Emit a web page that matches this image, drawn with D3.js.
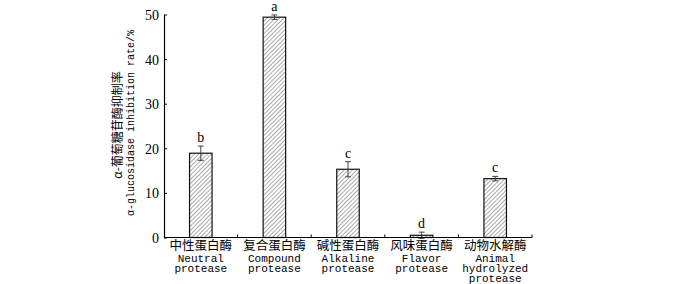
<!DOCTYPE html>
<html>
<head>
<meta charset="utf-8">
<script src="https://cdn.jsdelivr.net/npm/d3@7"></script>
<style>
  body { margin: 0; background: #fff; }
  svg { display: block; }
  .tickLbl { font-family: "Liberation Serif", serif; font-size: 14px; }
  .cnLbl { font-family: "Noto Sans CJK SC", sans-serif; font-size: 12.5px; }
  .enLbl { font-family: "Liberation Mono", monospace; font-size: 11px; }
  .sigLbl { font-family: "Liberation Serif", serif; font-size: 14px; }
</style>
</head>
<body>
<div id="chartDiv"></div>
<script>
// categories (Chinese name + English lines)
const cnNames = ["中性蛋白酶", "复合蛋白酶", "碱性蛋白酶", "风味蛋白酶", "动物水解酶"];
const enNames = [["Neutral", "protease"], ["Compound", "protease"], ["Alkaline", "protease"],
                 ["Flavor", "protease"], ["Animal", "hydrolyzed", "protease"]];
// inhibition rate (%) and error
const rates = [18.9, 49.4, 15.3, 0.5, 13.2];
const errs = [1.6, 0.5, 1.7, 0.7, 0.5];
const sigLetters = ["b", "a", "c", "d", "c"];
const yTicks = [0, 10, 20, 30, 40, 50];

const W = 700, H = 284;
const m = { l: 164, r: 168, t: 14.5, b: 46.5 };

const data = cnNames.map((c, i) => ({ cn: c, en: enNames[i], val: rates[i], err: errs[i], sig: sigLetters[i] }));

const svg = d3.select("#chartDiv").append("svg")
  .attr("width", W).attr("height", H);
svg.append("rect").attr("width", W).attr("height", H).attr("fill", "#fff");

// hatch pattern for bars
const pat = svg.append("defs").append("pattern")
  .attr("id", "hatch")
  .attr("patternUnits", "userSpaceOnUse")
  .attr("width", 3).attr("height", 3)
  .attr("patternTransform", "rotate(45)");
pat.append("rect").attr("width", 3).attr("height", 3).attr("fill", "#fff");
pat.append("line")
  .attr("x1", 0).attr("y1", 0).attr("x2", 0).attr("y2", 3)
  .attr("stroke", "#555").attr("stroke-width", 1);

const x = d3.scaleBand()
  .domain(cnNames)
  .range([m.l, W - m.r])
  .padding(0);

const y = d3.scaleLinear()
  .domain([0, 50])
  .range([H - m.b, m.t]);

const barW = 22.5;

// bars
svg.selectAll(".bar").data(data).enter().append("rect")
  .attr("class", "bar")
  .attr("x", d => x(d.cn) + x.bandwidth() / 2 - barW / 2)
  .attr("y", d => y(d.val))
  .attr("width", barW)
  .attr("height", d => y(0) - y(d.val))
  .attr("fill", "url(#hatch)")
  .attr("stroke", "#111")
  .attr("stroke-width", 1.2);

// error bars
const eg = svg.selectAll(".err").data(data).enter().append("g").attr("class", "err")
  .attr("stroke", "#333").attr("stroke-width", 0.9);
const cx = d => x(d.cn) + x.bandwidth() / 2;
eg.append("line")
  .attr("x1", cx).attr("x2", cx)
  .attr("y1", d => y(d.val - d.err)).attr("y2", d => y(d.val + d.err));
eg.append("line")
  .attr("x1", d => cx(d) - 3).attr("x2", d => cx(d) + 3)
  .attr("y1", d => y(d.val + d.err)).attr("y2", d => y(d.val + d.err));
eg.append("line")
  .attr("x1", d => cx(d) - 3).attr("x2", d => cx(d) + 3)
  .attr("y1", d => y(d.val - d.err)).attr("y2", d => y(d.val - d.err));

// significance letters
svg.selectAll(".sig").data(data).enter().append("text")
  .attr("class", "sigLbl")
  .attr("x", cx)
  .attr("y", d => y(d.val + d.err) - 4)
  .attr("text-anchor", "middle")
  .text(d => d.sig);

// y axis
const yAxis = d3.axisLeft(y).tickValues(yTicks).tickSizeInner(-3).tickSizeOuter(0).tickPadding(5);
const yG = svg.append("g").attr("transform", `translate(${m.l},0)`).call(yAxis);
yG.select(".domain").attr("stroke", "#000").attr("stroke-width", 1.2);
yG.selectAll(".tick line").attr("stroke", "#000");
yG.selectAll("text").attr("class", "tickLbl").attr("fill", "#000").attr("dy", "0.36em");

// x axis: ticks at band boundaries, pointing up
const xG = svg.append("g").attr("transform", `translate(0,${y(0)})`);
xG.append("line")
  .attr("x1", m.l).attr("x2", W - m.r)
  .attr("stroke", "#000").attr("stroke-width", 1.2);
const bounds = cnNames.map(c => x(c) + x.bandwidth());
xG.selectAll(".xt").data(bounds).enter().append("line")
  .attr("x1", d => d).attr("x2", d => d)
  .attr("y1", 0).attr("y2", -3)
  .attr("stroke", "#000");

// category labels
const lbl = svg.selectAll(".catLbl").data(data).enter().append("g")
  .attr("transform", d => `translate(${cx(d)},0)`);
lbl.append("text").attr("class", "cnLbl")
  .attr("text-anchor", "middle").attr("y", 250)
  .text(d => d.cn);
lbl.each(function(d) {
  d3.select(this).selectAll(".en").data(d.en).enter().append("text")
    .attr("class", "enLbl")
    .attr("text-anchor", "middle")
    .attr("y", (t, i) => 261.5 + i * 10)
    .text(t => t);
});

// y title, two lines
const yc = (y(0) + y(50)) / 2 - 3;
svg.append("text")
  .attr("transform", `translate(116,${yc + 2}) rotate(-90)`)
  .attr("text-anchor", "middle").attr("dominant-baseline", "central")
  .attr("font-family", "'Noto Sans CJK SC', sans-serif").attr("font-size", "12px")
  .text("α-葡萄糖苷酶抑制率");
svg.append("text")
  .attr("transform", `translate(131,${yc}) rotate(-90)`)
  .attr("text-anchor", "middle").attr("dominant-baseline", "central")
  .attr("font-family", "'Liberation Mono', monospace").attr("font-size", "10px")
  .text("α-glucosidase inhibition rate/%");
</script>
</body>
</html>
